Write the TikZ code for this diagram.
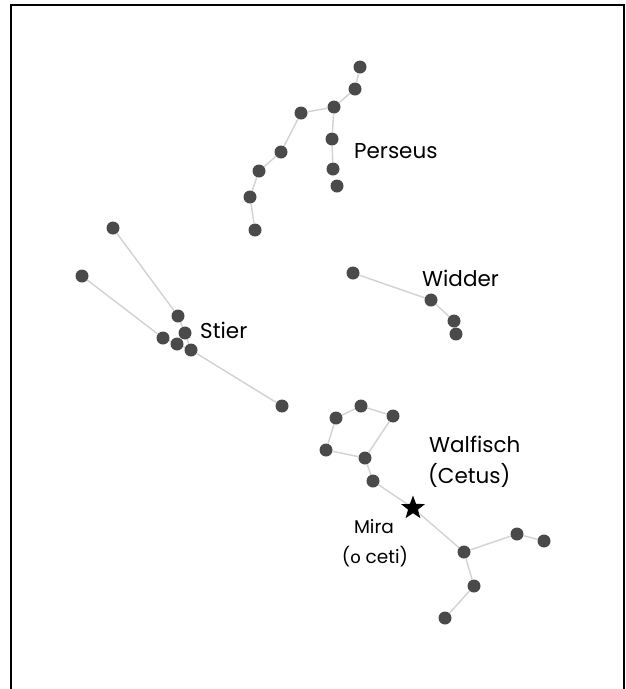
\documentclass[tikz,border=0pt]{standalone}
\usepackage{fontspec}
\setmainfont{Poppins}
\newfontfamily\greekfont{Lato}
\usetikzlibrary{shapes.geometric}
\definecolor{stardot}{HTML}{4A4A4A}
\definecolor{figline}{HTML}{D2D2D2}
\tikzset{
  px/.style={x=1pt,y=-1pt},
  sdot/.style={circle,fill=stardot,inner sep=0pt,minimum size=13pt},
  cline/.style={draw=figline,line width=1.4pt},
  clabel/.style={anchor=base west,inner sep=0pt,font=\fontsize{21.5}{25}\selectfont},
  slabel/.style={anchor=base,inner sep=0pt,font=\fontsize{18.5}{22}\selectfont},
  mira/.style={star,star points=5,star point ratio=2.4,fill=black,inner sep=0pt,minimum size=25pt},
  frameline/.style={line width=2pt,line join=miter}
}
\begin{document}
\begin{tikzpicture}[px]
\useasboundingbox (0,0) rectangle (625,689);
\fill[white] (0,0) rectangle (625,689);
\draw[frameline] (11,695) -- (11,5) -- (624,5) -- (624,695);

% Perseus
\node[sdot] (p1) at (360,67) {};
\node[sdot] (p2) at (355,89) {};
\node[sdot] (p3) at (334,107) {};
\node[sdot] (p4) at (301,113) {};
\node[sdot] (p5) at (332,139) {};
\node[sdot] (p6) at (281,152) {};
\node[sdot] (p7) at (333,169) {};
\node[sdot] (p8) at (337,186) {};
\node[sdot] (p9) at (259,171) {};
\node[sdot] (p10) at (250,197) {};
\node[sdot] (p11) at (255,230) {};

% Stier
\node[sdot] (s1) at (113,228) {};
\node[sdot] (s2) at (82,276) {};
\node[sdot] (s3) at (178,316) {};
\node[sdot] (s4) at (185,333) {};
\node[sdot] (s5) at (163,338) {};
\node[sdot] (s6) at (177,344) {};
\node[sdot] (s7) at (191,350) {};
\node[sdot] (s8) at (282,406) {};

% Widder
\node[sdot] (w1) at (353,273) {};
\node[sdot] (w2) at (431,300) {};
\node[sdot] (w3) at (454,321) {};
\node[sdot] (w4) at (456,334) {};

% Walfisch
\node[sdot] (c1) at (361,406) {};
\node[sdot] (c2) at (336,418) {};
\node[sdot] (c3) at (393,416) {};
\node[sdot] (c4) at (326,450) {};
\node[sdot] (c5) at (365,458) {};
\node[sdot] (c6) at (373,481) {};
\node[mira] (mira) at (413,508) {};
\node[sdot] (c7) at (464,552) {};
\node[sdot] (c8) at (517,534) {};
\node[sdot] (c9) at (544,541) {};
\node[sdot] (c10) at (474,586) {};
\node[sdot] (c11) at (445,618) {};

% figure lines between the stars
\path[cline] (p1) -- (p2) -- (p3) -- (p4) -- (p6) -- (p9) -- (p10) -- (p11);
\path[cline] (p3) -- (p5) -- (p7);
\path[cline] (s1) -- (s3) -- (s4) -- (s7) -- (s8);
\path[cline] (s2) -- (s5) -- (s6) -- (s7);
\path[cline] (w1) -- (w2) -- (w3);
\path[cline] (c2) -- (c1) -- (c3) -- (c5) -- (c4) -- (c2);
\path[cline] (c5) -- (c6) -- (mira) -- (c7) -- (c8) -- (c9);
\path[cline] (c7) -- (c10) -- (c11);

% labels
\node[clabel] (lper) at (354,158) {Perseus};
\node[clabel] (lstier) at (200,338) {Stier};
\node[clabel] (lwid) at (422,286) {Widder};
\node[clabel] (lwal) at (429,452) {Walfisch};
\node[clabel] (lcet) at (428,483) {(Cetus)};
\node[slabel] (lmira) at (374,533) {Mira};
\node[slabel] (lomi) at (375,563) {({\greekfont ο} ceti)};
\end{tikzpicture}
\end{document}
